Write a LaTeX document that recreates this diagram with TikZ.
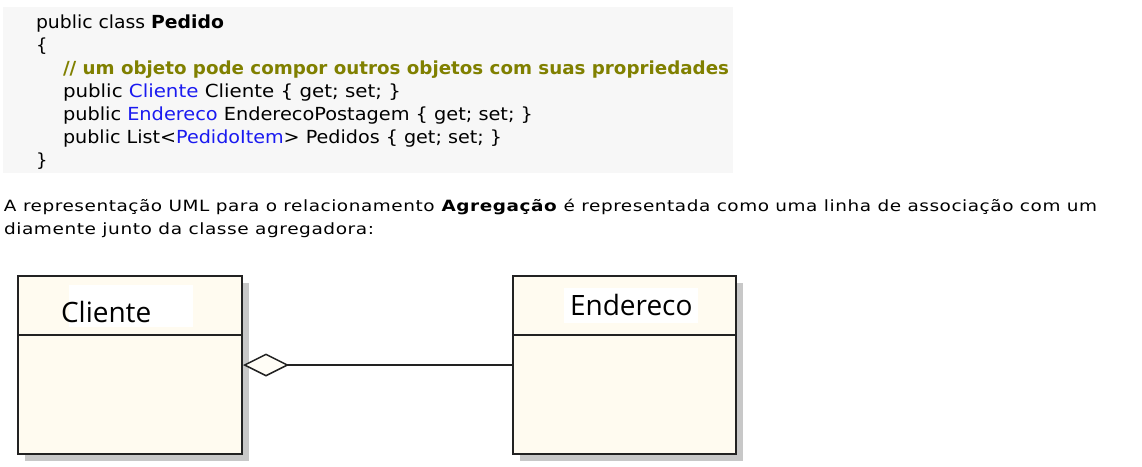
\documentclass[tikz,border=0pt]{standalone}
\usepackage{fontspec}
\usepackage{graphicx}
\usetikzlibrary{arrows.meta}
\setmainfont{DejaVu Sans}
\newfontfamily\codefont{DejaVu Sans}
\newfontfamily\parafont[LetterSpace=3]{DejaVu Sans}
\newfontfamily\umlfont{Open Sans}
\definecolor{codebg}{HTML}{F7F7F7}
\definecolor{cmt}{HTML}{808000}
\definecolor{kw}{HTML}{1A1AF0}
\definecolor{cream}{HTML}{FFFBF0}
\definecolor{shadowc}{HTML}{C8C8C8}
\definecolor{border}{HTML}{222222}
\newlength\fitlen
\newcommand\fitw[2]{\settowidth{\fitlen}{#2}\pgfmathsetmacro\fitr{#1/\fitlen}\scalebox{\fitr}[1]{#2}}
\tikzset{
  txt/.style={anchor=base west, inner sep=0pt, outer sep=0pt},
  code/.style={txt, font=\codefont\fontsize{18}{21}\selectfont},
  para/.style={txt, font=\parafont\fontsize{15.5}{18}\selectfont},
  umlbox/.style={draw=border, line width=2pt, fill=cream, minimum width=224pt, minimum height=178pt, inner sep=0pt},
  umlshadow/.style={fill=shadowc, draw=none},
  umltitle/.style={txt, font=\umlfont\fontsize{28}{31}\selectfont},
  assoc/.style={draw=border, line width=1.5pt}
}
\begin{document}
\begin{tikzpicture}[x=1pt,y=-1pt]
\useasboundingbox (0,0) rectangle (1142,466);
% code block
\fill[codebg] (3,7) rectangle (733,173);
\node[code] (l1) at (36,28) {\fitw{188}{public class \textbf{Pedido}}};
\node[code] (l2) at (36,51) {\{};
\node[code] (l3) at (63,74) {\fitw{666}{\color{cmt}\bfseries // um objeto pode compor outros objetos com suas propriedades}};
\node[code] (l4) at (63,97) {\fitw{338}{public \textcolor{kw}{Cliente} Cliente \{ get; set; \}}};
\node[code] (l5) at (63,120) {\fitw{470}{public \textcolor{kw}{Endereco} EnderecoPostagem \{ get; set; \}}};
\node[code] (l6) at (63,143) {\fitw{439}{public List<\textcolor{kw}{PedidoItem}> Pedidos \{ get; set; \}}};
\node[code] (l7) at (36,166) {\}};
% paragraph
\node[para] (p1) at (4,211) {\fitw{1093}{A representação UML para o relacionamento \textbf{Agregação} é representada como uma linha de associação com um}};
\node[para] (p2) at (4,234) {\fitw{370}{diamente junto da classe agregadora:}};
% UML shadows
\fill[umlshadow] (25,283) rectangle (249,461);
\fill[umlshadow] (520,283) rectangle (743,461);
% UML boxes
\node[umlbox, anchor=north west] (cliente) at (17,275) {};
\node[umlbox, anchor=north west, minimum width=223pt] (endereco) at (512,275) {};
\draw[border, line width=2pt] (cliente.west |- 0,335) -- (cliente.east |- 0,335);
\draw[border, line width=2pt] (endereco.west |- 0,335) -- (endereco.east |- 0,335);
\fill[white] (69,285) rectangle (193,327);
\fill[white] (564,288) rectangle (698,323);
\node[umltitle] (tcliente) at (61,322) {Cliente};
\node[umltitle] (tendereco) at (570,315) {Endereco};
% aggregation
\draw[assoc, {Diamond[open, length=46pt, width=23pt, fill=cream!60!white, line width=1.5pt]}-] (cliente.east) -- (endereco.west);
\end{tikzpicture}
\end{document}
